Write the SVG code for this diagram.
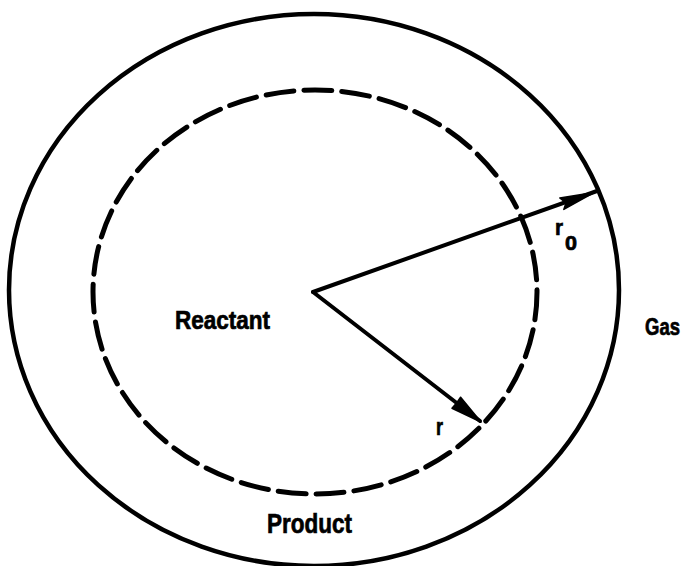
<svg xmlns="http://www.w3.org/2000/svg" width="689" height="566" viewBox="0 0 689 566">
<style>
.lbl{font-family:"Liberation Sans",Arial,sans-serif;font-weight:bold;fill:#000;stroke:#000;stroke-width:0.7}
.ln{fill:none;stroke:#000;stroke-linecap:round;stroke-linejoin:round}
</style>
<rect width="689" height="566" fill="#fff"/>
<g id="gas-boundary">
<ellipse class="ln" cx="314" cy="290" rx="305" ry="276" stroke-width="4.5"/>
<text class="lbl" x="645" y="335" font-size="24" textLength="35" lengthAdjust="spacingAndGlyphs">Gas</text>
</g>
<g id="product-layer">
<text class="lbl" x="267" y="533" font-size="28" textLength="85" lengthAdjust="spacingAndGlyphs">Product</text>
</g>
<g id="reactant-core">
<ellipse class="ln" cx="315" cy="292" rx="222" ry="202" stroke-width="5" stroke-dasharray="28 10" stroke-linecap="round"/>
<text class="lbl" x="175" y="329" font-size="26" textLength="95" lengthAdjust="spacingAndGlyphs">Reactant</text>
</g>
<g id="connectors">
<line class="ln" x1="313" y1="292" x2="597" y2="191" stroke-width="4"/>
<polygon points="594,192.5 563.8,209.4 566,203 559.8,198.0" fill="#000" stroke="#000" stroke-width="1.5" stroke-linejoin="round"/>
<line class="ln" x1="313" y1="292" x2="480" y2="421" stroke-width="4"/>
<polygon points="481,422 452.0,408.2 457,402.5 460.6,397.2" fill="#000" stroke="#000" stroke-width="1.5" stroke-linejoin="round"/>
<text class="lbl" x="555" y="235" font-size="22" textLength="8" lengthAdjust="spacingAndGlyphs">r</text>
<text class="lbl" x="565" y="250" font-size="20" textLength="12" lengthAdjust="spacingAndGlyphs">0</text>
<text class="lbl" x="436" y="435" font-size="24" textLength="7" lengthAdjust="spacingAndGlyphs">r</text>
</g>
</svg>
